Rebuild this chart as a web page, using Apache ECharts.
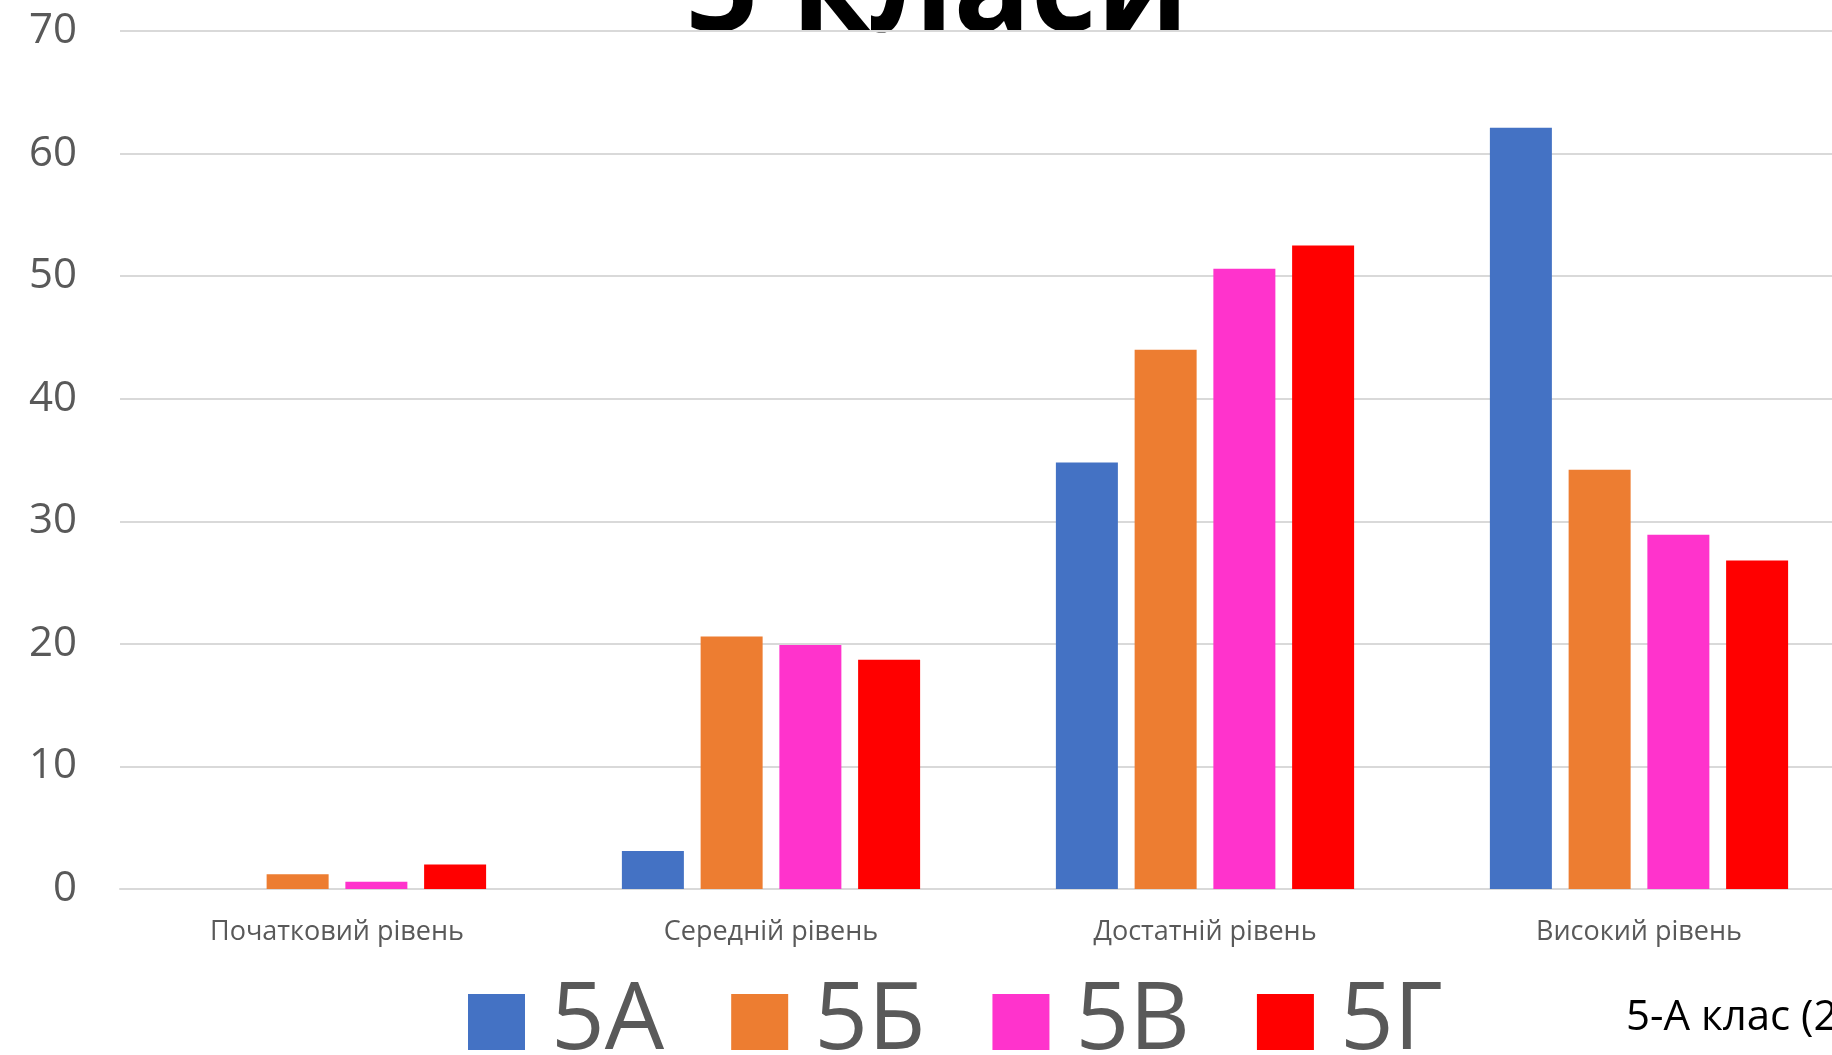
<!DOCTYPE html>
<html>
<head>
<meta charset="utf-8">
<script src="https://cdn.jsdelivr.net/npm/echarts@6/dist/echarts.min.js"></script>
<style>
  html, body { margin: 0; padding: 0; background: #fff; overflow: hidden; }
  #chart { width: 1856px; height: 1055px; }
</style>
</head>
<body>
<div id="chart"></div>
<script>
var levels = ['Початковий рівень', 'Середній рівень', 'Достатній рівень', 'Високий рівень'];
var classNames = ['5А', '5Б', '5В', '5Г'];
var colors = ['#4472C4', '#ED7D31', '#FF33CC', '#FF0000'];
var class5A = [0, 3.1, 34.8, 62.1];
var class5B = [1.2, 20.6, 44.0, 34.2];
var class5V = [0.6, 19.9, 50.6, 28.9];
var class5G = [2.0, 18.7, 52.5, 26.8];
var yTicks = { min: 0, max: 70, step: 10 };

var allValues = [class5A, class5B, class5V, class5G];
var series = [];
for (var i = 0; i < classNames.length; i++) {
    series.push({
        name: classNames[i],
        type: 'bar',
        barWidth: 62,
        barGap: '27%',
        itemStyle: { color: colors[i] },
        data: allValues[i]
    });
}

// chart is a bit wider than the window, the right edge is cut like in the slide
var chart = echarts.init(document.getElementById('chart'));
var option = {
    backgroundColor: '#ffffff',
    animation: false,
    grid: {
        left: 120,
        top: 31,
        right: 0,
        bottom: 166,
        containLabel: false
    },
    legend: {
        data: classNames,
        left: 463,
        top: 970,
        itemWidth: 57,
        itemHeight: 56,
        itemGap: 67,
        icon: 'rect',
        textStyle: {
            fontSize: 94,
            color: '#595959',
            fontFamily: '"Open Sans", sans-serif',
            padding: [0, 0, 0, 21]
        }
    },
    xAxis: {
        type: 'category',
        data: levels,
        axisTick: { show: false },
        axisLine: { lineStyle: { color: '#D9D9D9', width: 2 } },
        axisLabel: {
            color: '#595959',
            fontSize: 27,
            margin: 30,
            fontFamily: '"Open Sans", sans-serif'
        }
    },
    yAxis: {
        type: 'value',
        min: yTicks.min,
        max: yTicks.max,
        interval: yTicks.step,
        axisLine: { show: false },
        axisTick: { show: false },
        splitLine: { lineStyle: { color: '#D9D9D9', width: 2 } },
        axisLabel: {
            color: '#595959',
            fontSize: 42,
            margin: 43,
            padding: [12, 0, 0, 0],
            fontFamily: '"Open Sans", sans-serif'
        }
    },
    graphic: [
        {
            type: 'text',
            x: 937,
            y: -69,
            style: {
                text: '5 класи',
                align: 'center',
                textAlign: 'center',
                font: 'bold 128px "Open Sans", sans-serif',
                fill: '#000000'
            }
        },
        {
            type: 'text',
            left: 1626,
            top: 997,
            style: {
                text: '5-А клас (2022-2023 н.р.)',
                font: '42px "Open Sans", sans-serif',
                fill: '#000000'
            }
        }
    ],
    series: series
};
chart.setOption(option);
</script>
</body>
</html>
